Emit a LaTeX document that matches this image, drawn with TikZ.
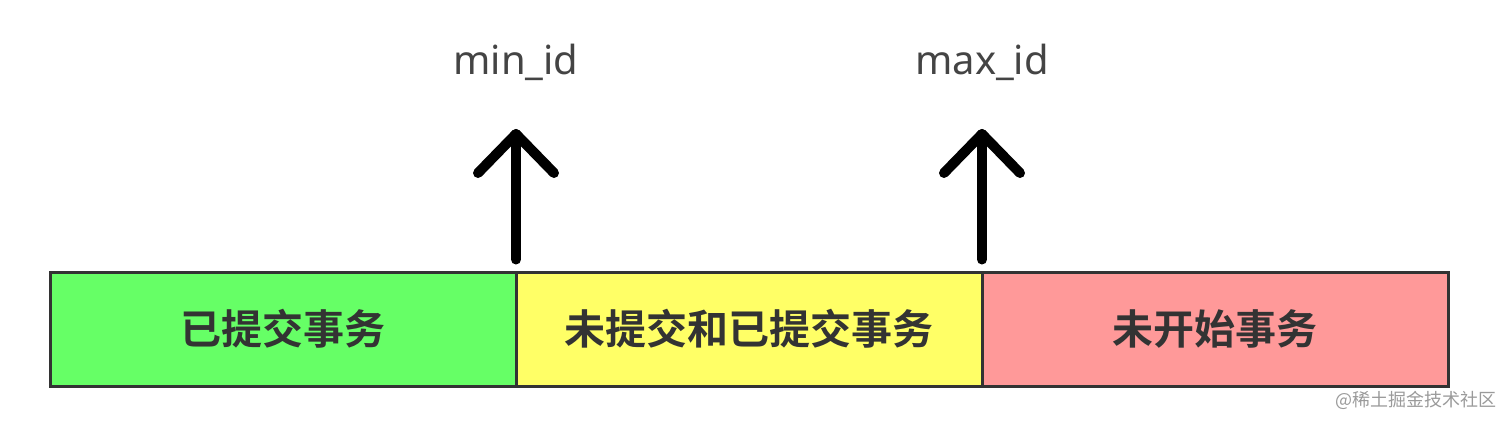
\documentclass[tikz,border=0pt]{standalone}
\usepackage{fontspec}
\setmainfont{Noto Sans}
\newfontfamily\cjk{Noto Sans CJK SC}
\newfontfamily\cjkb{Noto Sans CJK SC Bold}
\definecolor{cgreen}{HTML}{66FF66}
\definecolor{cyellow}{HTML}{FFFF66}
\definecolor{cred}{HTML}{FF9999}
\definecolor{edge}{HTML}{333333}
\definecolor{lbl}{HTML}{444444}
\definecolor{wm}{HTML}{9A9A9A}
\begin{document}
\begin{tikzpicture}[x=1pt,y=-1pt,
  seg/.style={draw=edge,line width=3pt,minimum width=466pt,minimum height=114pt,inner sep=0pt,
    font=\cjkb\fontsize{41}{44}\selectfont,text=edge},
  idlabel/.style={font=\fontsize{40}{44}\selectfont,text=lbl,inner sep=0pt},
  arr/.style={line width=10pt,line cap=round,line join=round,black}]
\useasboundingbox (0,0) rectangle (1512,425);
\node[seg,fill=cgreen] (b1) at (283,329) {\raisebox{-3pt}{已提交事务}};
\node[seg,fill=cyellow] (b2) at (749,329) {\raisebox{-3pt}{未提交和已提交事务}};
\node[seg,fill=cred] (b3) at (1215,329) {\raisebox{-3pt}{未开始事务}};
\node[idlabel] (l1) at (516,62) {min\_id};
\node[idlabel] (l2) at (982,62) {max\_id};
\coordinate (t1) at (516,134);
\coordinate (t2) at (982,134);
\draw[arr] ([yshift=11pt]t1 |- b1.north) -- (t1);
\draw[arr] ([xshift=-38pt,yshift=-39pt]t1) -- (t1) -- ([xshift=38pt,yshift=-39pt]t1);
\draw[arr] ([yshift=11pt]t2 |- b2.north) -- (t2);
\draw[arr] ([xshift=-38pt,yshift=-39pt]t2) -- (t2) -- ([xshift=38pt,yshift=-39pt]t2);
\node[anchor=east,inner sep=0pt,text=wm,font=\cjk\fontsize{18}{20}\selectfont] (wmk) at (1497,400) {@稀土掘金技术社区};
\end{tikzpicture}
\end{document}
